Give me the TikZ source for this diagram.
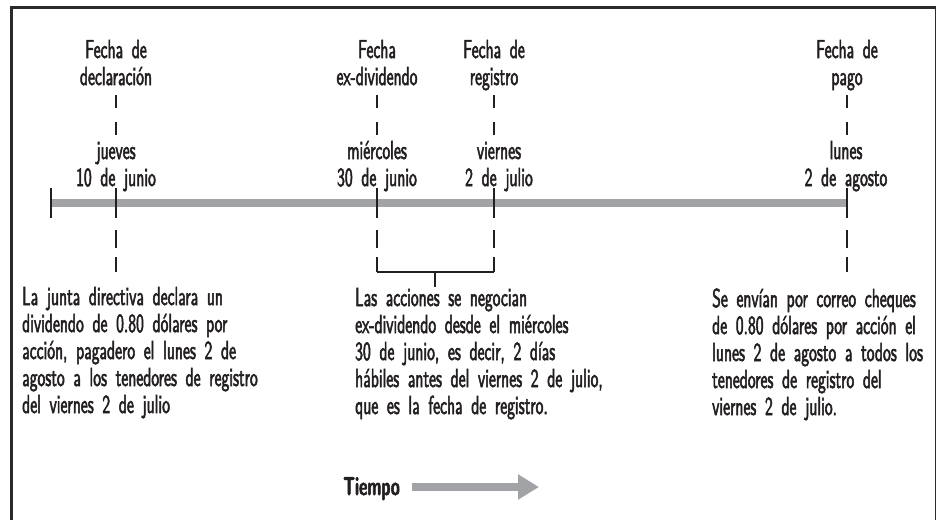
\documentclass[tikz,border=0pt]{standalone}
\usepackage{fontspec}
\setmainfont{lmsans10-regular.otf}[FakeStretch=0.60, FakeBold=2, BoldFont=lmsans10-bold.otf, BoldFeatures={FakeStretch=0.62, FakeBold=2}]
\usetikzlibrary{arrows.meta}
\lineskiplimit=-30pt
\definecolor{ink}{HTML}{231F20}
\definecolor{bargray}{HTML}{A2A3A6}
\definecolor{framecol}{HTML}{2A2A2A}
\tikzset{
  txt/.style={inner sep=0pt, text=ink, font=\fontsize{26}{27}\selectfont, execute at begin node={\lineskiplimit=-30pt}},
  toplabel/.style={txt, anchor=base, text width=170pt, align=center},
  block/.style={txt, anchor=base west, text width=300pt, align=left},
  tickline/.style={draw=ink, line width=1.1pt},
  timebar/.style={draw=bargray, line width=8pt},
}
\begin{document}
\begin{tikzpicture}[x=1pt,y=-1pt]
\useasboundingbox (0,0) rectangle (937,520);
% frame
\draw[framecol, line width=3pt] (11.5,520) -- (11.5,7.5) -- (935.5,7.5);
\draw[framecol, line width=1.3pt] (935.5,7.5) -- (935.5,520);

% time line
\coordinate (tlstart) at (51,203);
\coordinate (tlend) at (847,203);
\draw[timebar] (tlstart) -- (tlend);
\draw[tickline] (51,188) -- (51,218);

% vertical dashed markers
\foreach \x in {116,377,494,847}{
  \draw[tickline] (\x,95) -- (\x,108) (\x,122) -- (\x,135)
                  (\x,188) -- (\x,218) (\x,230) -- (\x,248) (\x,257) -- (\x,272);
}
% bracket
\coordinate (brl) at (377,272);
\coordinate (brr) at (494,272);
\coordinate (brm) at (435,272);
\coordinate (brs) at (435,287);
\draw[tickline] (brl) -- (brr);
\draw[tickline] (brm) -- (brs);

% top labels
\node[toplabel] (decl) at (116,58) {Fecha de\\declaración};
\node[toplabel] (exdiv) at (377,58) {Fecha\\ex-dividendo};
\node[toplabel] (reg) at (494,58) {Fecha de\\registro};
\node[toplabel] (pago) at (847,58) {Fecha de\\pago};

% dates
\node[toplabel] (d1) at (116,159) {jueves\\10 de junio};
\node[toplabel] (d2) at (377,159) {miércoles\\30 de junio};
\node[toplabel] (d3) at (499,159) {viernes\\2 de julio};
\node[toplabel] (d4) at (846,159) {lunes\\2 de agosto};

% descriptions
\node[block] (b1) at (22,305) {La junta directiva declara un\\dividendo de 0.80 dólares por\\acción, pagadero el lunes 2 de\\agosto a los tenedores de registro\\del viernes 2 de julio};
\node[block] (b2) at (355,306) {Las acciones se negocian\\ex-dividendo desde el miércoles\\30 de junio, es decir, 2 días\\hábiles antes del viernes 2 de julio,\\que es la fecha de registro.};
\node[block, text width=260pt] (b3) at (712,307) {Se envían por correo cheques\\de 0.80 dólares por acción el\\lunes 2 de agosto a todos los\\tenedores de registro del\\viernes 2 de julio.};

% time arrow
\node[txt, anchor=base west, font=\fontsize{26}{27}\selectfont\bfseries] (tiempo) at (343,495) {Tiempo};
\coordinate (ta) at (412,487);
\coordinate (tb) at (539,487);
\draw[timebar, -{Triangle[length=21pt,width=24pt]}] (ta) -- (tb);
\end{tikzpicture}
\end{document}
